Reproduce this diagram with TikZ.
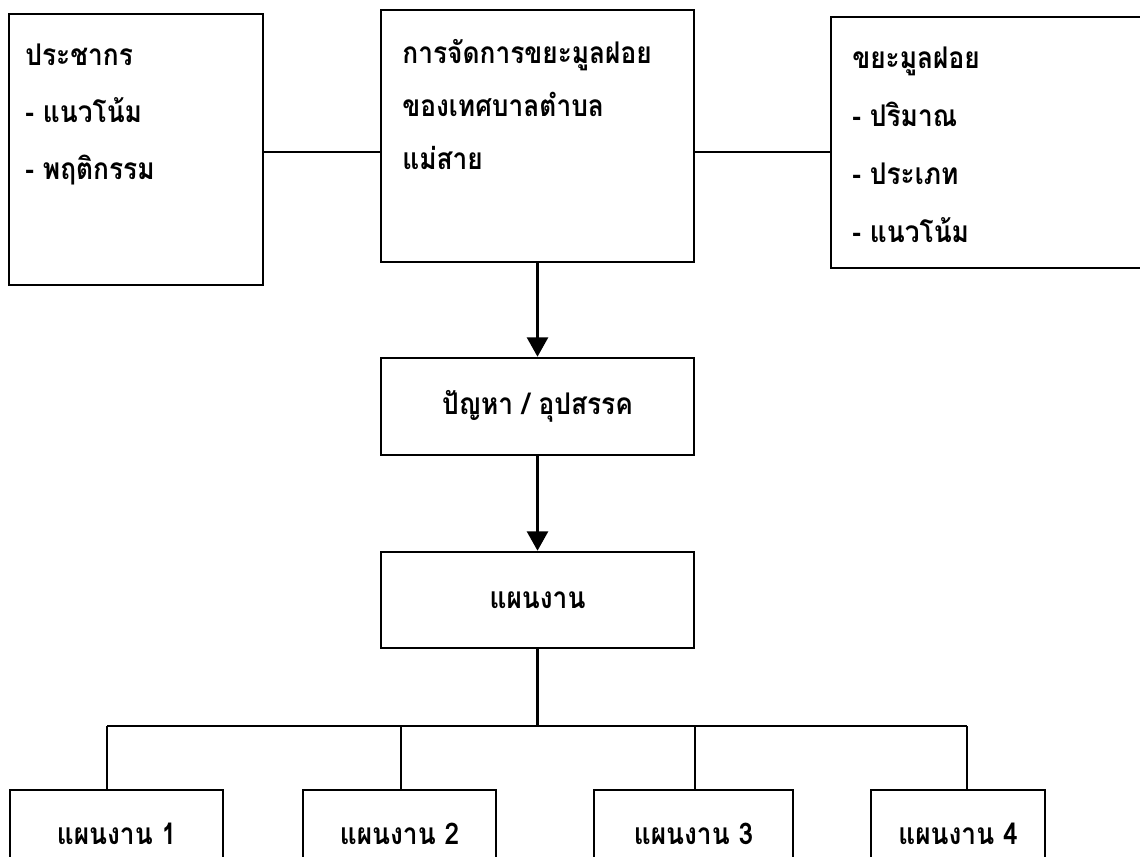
\documentclass[tikz,border=0pt]{standalone}
\usepackage{fontspec}
\newfontfamily\thaifont[Script=Thai, FakeStretch=0.88]{Loma}
\usetikzlibrary{arrows.meta}

\begin{document}
\begin{tikzpicture}[x=0.02cm,y=-0.02cm]
    \tikzstyle{every node}=[font=\thaifont\bfseries\fontsize{17}{20}\selectfont]
    \tikzstyle{box}=[draw, line width=1.5pt, rectangle, inner sep=0pt]
    \tikzstyle{link}=[line width=1.3pt]
    \tikzstyle{flow}=[line width=1.3pt, -{Triangle[width=12pt,length=11pt]}]

    \path[use as bounding box, clip] (0,0) rectangle (1140,856);

    % top row of boxes
    \node[box, minimum width=5.08cm, minimum height=5.42cm] (pop) at (136,149.5) {};
    \node[box, minimum width=6.26cm, minimum height=5.04cm] (mgmt) at (537.5,136) {};
    \node[box, minimum width=6.58cm, minimum height=5.02cm] (waste) at (995.5,142.5) {};

    % texts of the top boxes
    \foreach \t [count=\i] in {ประชากร, - แนวโน้ม, - พฤติกรรม}
      \node[anchor=base west, inner sep=0pt] (popTxt\i) at (25,8+57*\i) {\t};
    \foreach \t [count=\i] in {การจัดการขยะมูลฝอย, ของเทศบาลตำบล, แม่สาย}
      \node[anchor=base west, inner sep=0pt] (mgmtTxt\i) at (402,10+53*\i) {\t};
    \foreach \t [count=\i] in {ขยะมูลฝอย, - ปริมาณ, - ประเภท, - แนวโน้ม}
      \node[anchor=base west, inner sep=0pt] (wasteTxt\i) at (852,10+58*\i) {\t};

    % links between the top boxes
    \coordinate (tie) at (0,152);
    \draw[link] (pop.east |- tie) -- (mgmt.west |- tie);
    \draw[link] (mgmt.east |- tie) -- (waste.west |- tie);

    % middle column
    \node[box, minimum width=6.26cm, minimum height=1.94cm] (problem) at (537.5,406.5) {ปัญหา / อุปสรรค};
    \node[box, minimum width=6.26cm, minimum height=1.92cm] (plan) at (537.5,600) {แผนงาน};
    \draw[flow] (mgmt) -- (problem);
    \draw[flow] (problem) -- (plan);

    % plans (boxes run past the lower edge)
    \node[box, minimum width=4.26cm, minimum height=2cm] (plan1) at (116.5,840) {};
    \node[box, minimum width=3.86cm, minimum height=2cm] (plan2) at (399.5,840) {};
    \node[box, minimum width=3.98cm, minimum height=2cm] (plan3) at (693.5,840) {};
    \node[box, minimum width=3.48cm, minimum height=2cm] (plan4) at (958,840) {};
    \foreach \i in {1,...,4}
      \node (planTxt\i) at (plan\i |- 0,834) {แผนงาน \i};

    % tree down to the plans
    \coordinate (drop1) at (107,726);
    \coordinate (drop2) at (401,726);
    \coordinate (drop3) at (695,726);
    \coordinate (drop4) at (967,726);
    \draw[link] (plan.south) -- (plan.south |- drop1);
    \draw[link] (drop1) -- (drop4);
    \foreach \i in {1,...,4}{
      \draw[link] (drop\i) -- (drop\i |- plan\i.north);
    }

  \end{tikzpicture}
\end{document}
